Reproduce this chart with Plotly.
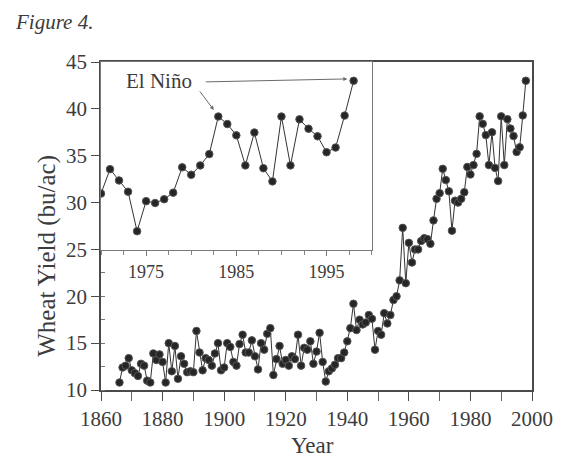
import plotly.graph_objects as go

# ---------------- data ----------------
FIRST_YEAR = 1866
# US wheat yield, bushels per acre, 1866-1998
WHEAT_YIELD = [
    10.8, 12.4, 12.6, 13.4, 12.1, 11.8, 11.5, 12.8, 12.6, 11.0,   # 1866-1875
    10.8, 13.9, 13.2, 13.8, 13.0, 10.8, 15.0, 12.0, 14.7, 11.2,   # 1876-1885
    13.6, 12.8, 11.9, 12.0, 11.9, 16.3, 14.0, 12.1, 13.4, 13.2,   # 1886-1895
    12.6, 13.9, 15.0, 12.1, 12.4, 15.0, 14.6, 13.0, 12.6, 14.9,   # 1896-1905
    15.9, 14.0, 14.0, 15.3, 13.6, 12.2, 15.0, 14.3, 16.0, 16.6,   # 1906-1915
    11.6, 13.3, 14.7, 12.8, 13.2, 12.6, 13.6, 13.3, 15.9, 12.6,   # 1916-1925
    14.5, 14.3, 15.2, 12.8, 14.1, 16.1, 13.0, 10.9, 12.0, 12.3,   # 1926-1935
    12.7, 13.4, 13.4, 14.0, 15.2, 16.6, 19.2, 16.4, 17.5, 17.0,   # 1936-1945
    17.2, 18.0, 17.6, 14.3, 16.3, 15.9, 18.2, 17.1, 18.0, 19.6,   # 1946-1955
    20.0, 21.7, 27.3, 21.4, 25.7, 23.6, 25.0, 25.0, 25.9, 26.2,   # 1956-1965
    26.1, 25.6, 28.1, 30.4,                                       # 1966-1969
    31.0, 33.6, 32.4, 31.2, 27.0, 30.2, 30.0, 30.4, 31.1, 33.8,   # 1970-1979
    33.0, 34.0, 35.2, 39.2, 38.4, 37.2, 34.0, 37.5, 33.7, 32.3,   # 1980-1989
    39.2, 34.0, 38.9, 37.9, 37.1, 35.4, 35.9, 39.3, 43.0,         # 1990-1998
]
YEARS = list(range(FIRST_YEAR, FIRST_YEAR + len(WHEAT_YIELD)))

INSET_FIRST_YEAR = 1970
EL_NINO_YEARS = [1983, 1998]

MAIN_X_TICKS = [1860, 1880, 1900, 1920, 1940, 1960, 1980, 2000]
MAIN_Y_TICKS = [10, 15, 20, 25, 30, 35, 40, 45]
INSET_X_TICKS = [1975, 1985, 1995]

TITLE = "Figure 4."
X_TITLE = "Year"
Y_TITLE = "Wheat Yield (bu/ac)"
NOTE = "El Niño"

# ---------------- figure ----------------
SERIF = "Liberation Serif, Times New Roman, serif"
TXT = "#3c3c3c"
AX = "#4a4a4a"

inset_x = [y for y in YEARS if y >= INSET_FIRST_YEAR]
inset_v = [v for y, v in zip(YEARS, WHEAT_YIELD) if y >= INSET_FIRST_YEAR]

marker = dict(size=7.5, color="#262626", line=dict(color="#555", width=1))
line = dict(color="#333", width=1)

fig = go.Figure()
fig.add_trace(go.Scatter(x=YEARS, y=WHEAT_YIELD, mode="lines+markers",
                         line=line, marker=marker, showlegend=False,
                         hoverinfo="x+y"))
fig.add_trace(go.Scatter(x=inset_x, y=inset_v, mode="lines+markers",
                         line=line, marker=marker, showlegend=False,
                         xaxis="x2", yaxis="y2", hoverinfo="x+y"))

ann = []
# figure caption (top-left)
ann.append(dict(xref="paper", yref="paper", x=-0.204, y=1.1646,
                text="<i>" + TITLE + "</i>", showarrow=False,
                xanchor="left", yanchor="top",
                font=dict(family=SERIF, size=21, color=TXT)))
# El Niño label
ann.append(dict(xref="x2", yref="y2", x=1976.4, y=43.0, text=NOTE,
                showarrow=False, font=dict(family=SERIF, size=21, color=TXT)))
# arrows to El Niño years
val = dict(zip(YEARS, WHEAT_YIELD))
arrow_offsets = {1983: (-0.5, 0.7, -15, -20), 1998: (-0.7, 0.2, -143, 3)}
for yr in EL_NINO_YEARS:
    dx, dy, ax, ay = arrow_offsets[yr]
    ann.append(dict(xref="x2", yref="y2", x=yr + dx, y=val[yr] + dy,
                    ax=ax, ay=ay, text="", showarrow=True, arrowhead=2,
                    arrowsize=0.8, arrowwidth=1, arrowcolor="#6a6a6a",
                    standoff=0))
# axis titles
ann.append(dict(xref="paper", yref="paper", x=0.49, y=-0.168, text=X_TITLE,
                showarrow=False, xanchor="center", yanchor="middle",
                font=dict(family=SERIF, size=23, color=TXT)))
ann.append(dict(xref="paper", yref="paper", x=-0.127, y=0.41, text=Y_TITLE,
                showarrow=False, textangle=-90, xanchor="center", yanchor="middle",
                font=dict(family=SERIF, size=25, color=TXT)))

# the page body adds an 8px offset, so the figure is 8px smaller and shifted
fig.update_layout(
    width=557, height=453,
    margin=dict(l=93, r=23, t=54, b=71, pad=0),
    paper_bgcolor="white", plot_bgcolor="white",
    annotations=ann,
    xaxis=dict(domain=[0, 1], range=[1860, 2000], showgrid=False, zeroline=False,
               showline=True, mirror=True, linecolor=AX, linewidth=1.5,
               tickmode="array", tickvals=MAIN_X_TICKS,
               ticktext=[str(t) for t in MAIN_X_TICKS],
               ticks="outside", ticklen=9, tickwidth=1.2, tickcolor=AX,
               minor=dict(dtick=10, tick0=1860, ticks="outside", ticklen=9,
                          tickwidth=1, tickcolor="#666"),
               tickfont=dict(family=SERIF, size=21, color=TXT)),
    yaxis=dict(domain=[0, 1], range=[10, 45], showgrid=False, zeroline=False,
               showline=True, mirror=True, linecolor=AX, linewidth=1.5,
               tickmode="array", tickvals=MAIN_Y_TICKS,
               ticktext=[str(t) for t in MAIN_Y_TICKS],
               ticks="outside", ticklen=8, tickwidth=1.2, tickcolor=AX,
               minor=dict(dtick=2.5, tick0=10, ticks="inside", ticklen=4,
                          tickwidth=1, tickcolor="#777"),
               tickfont=dict(family=SERIF, size=21, color=TXT)),
    xaxis2=dict(domain=[0, 0.628], anchor="y2", range=[1970, 2000],
                showgrid=False, zeroline=False, showline=True, mirror=True,
                linecolor="#7a7a7a", linewidth=1.2,
                tickmode="array", tickvals=INSET_X_TICKS,
                ticktext=[str(t) for t in INSET_X_TICKS],
                ticks="outside", ticklen=5, tickwidth=1, tickcolor="#777",
                minor=dict(dtick=2.5, tick0=1970, ticks="outside", ticklen=4,
                           tickwidth=1, tickcolor="#888"),
                ticklabelstandoff=0,
                tickfont=dict(family=SERIF, size=18, color=TXT)),
    yaxis2=dict(domain=[0.4268, 1], anchor="x2", range=[25, 45],
                showgrid=False, zeroline=False, showline=True, mirror=True,
                linecolor="#7a7a7a", linewidth=1.2,
                showticklabels=False, ticks=""),
)

fig.write_html("out.html")
